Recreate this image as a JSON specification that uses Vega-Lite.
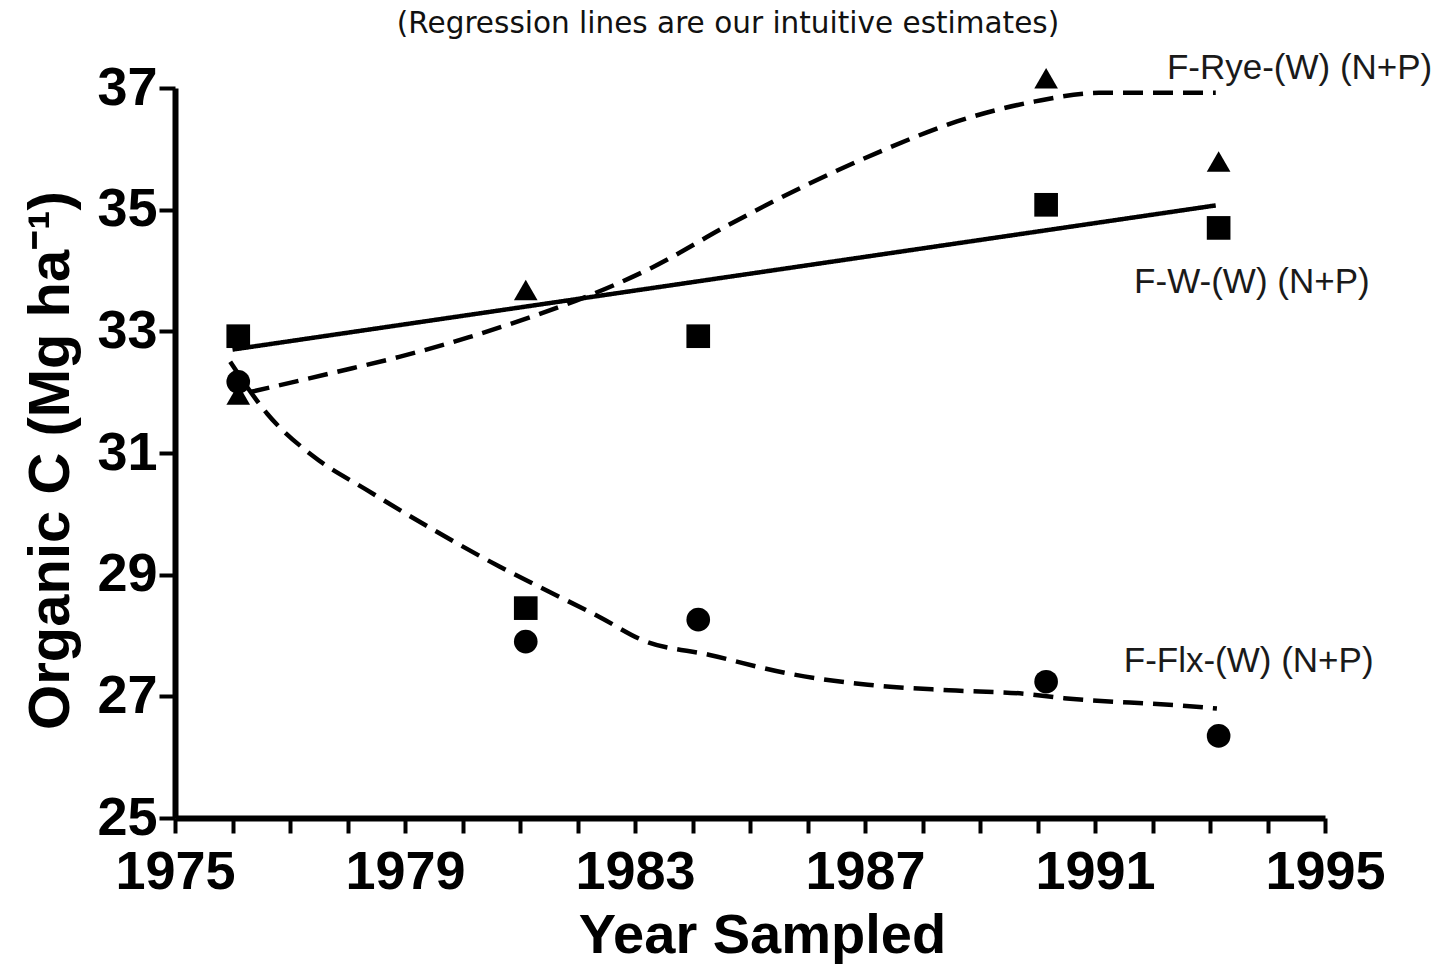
{
  "$schema": "https://vega.github.io/schema/vega-lite/v6.json",
  "width": 1150,
  "height": 730,
  "autosize": {"type": "none"},
  "padding": {"left": 175, "top": 88, "right": 124, "bottom": 146},
  "background": "white",
  "title": {
    "text": "(Regression lines are our intuitive estimates)",
    "font": "DejaVu Sans",
    "fontSize": 29.5,
    "fontWeight": "normal",
    "color": "#111",
    "anchor": "middle",
    "frame": "group",
    "dx": -22,
    "offset": 12
  },
  "config": {
    "view": {"stroke": null},
    "axis": {
      "domainColor": "black",
      "domainWidth": 6,
      "tickColor": "black",
      "tickWidth": 4,
      "grid": false,
      "labelFont": "Liberation Sans",
      "labelFontWeight": "bold",
      "labelFontSize": 54,
      "labelColor": "black",
      "titleFont": "Liberation Sans",
      "titleFontWeight": "bold",
      "titleColor": "black"
    }
  },
  "datasets": {
    "obs": [
      {"series": "Rye", "year": 1976.1, "c": 31.96},
      {"series": "Rye", "year": 1981.1, "c": 33.68},
      {"series": "Rye", "year": 1990.15, "c": 37.16},
      {"series": "Rye", "year": 1993.15, "c": 35.79},
      {"series": "W", "year": 1976.1, "c": 32.92},
      {"series": "W", "year": 1981.1, "c": 28.45},
      {"series": "W", "year": 1984.1, "c": 32.92},
      {"series": "W", "year": 1990.15, "c": 35.08},
      {"series": "W", "year": 1993.15, "c": 34.7},
      {"series": "Flx", "year": 1976.1, "c": 32.17},
      {"series": "Flx", "year": 1981.1, "c": 27.9},
      {"series": "Flx", "year": 1984.1, "c": 28.26},
      {"series": "Flx", "year": 1990.15, "c": 27.24},
      {"series": "Flx", "year": 1993.15, "c": 26.35}
    ],
    "fits": [
      {"series": "W", "year": 1976.0, "c": 32.7},
      {"series": "W", "year": 1993.1, "c": 35.07},
      {"series": "Rye", "year": 1976.3, "c": 32.0},
      {"series": "Rye", "year": 1977.75, "c": 32.32},
      {"series": "Rye", "year": 1978.9, "c": 32.58},
      {"series": "Rye", "year": 1980.1, "c": 32.9},
      {"series": "Rye", "year": 1981.2, "c": 33.24},
      {"series": "Rye", "year": 1982.1, "c": 33.55},
      {"series": "Rye", "year": 1983.3, "c": 34.05},
      {"series": "Rye", "year": 1984.63, "c": 34.75},
      {"series": "Rye", "year": 1985.97, "c": 35.4},
      {"series": "Rye", "year": 1987.3, "c": 35.97},
      {"series": "Rye", "year": 1988.6, "c": 36.45},
      {"series": "Rye", "year": 1989.96, "c": 36.78},
      {"series": "Rye", "year": 1991.07, "c": 36.92},
      {"series": "Rye", "year": 1993.1, "c": 36.92},
      {"series": "Flx", "year": 1975.96, "c": 32.5},
      {"series": "Flx", "year": 1976.6, "c": 31.65},
      {"series": "Flx", "year": 1977.4, "c": 30.95},
      {"series": "Flx", "year": 1978.34, "c": 30.39},
      {"series": "Flx", "year": 1979.49, "c": 29.74},
      {"series": "Flx", "year": 1980.65, "c": 29.13},
      {"series": "Flx", "year": 1981.23, "c": 28.85},
      {"series": "Flx", "year": 1982.39, "c": 28.3},
      {"series": "Flx", "year": 1983.14, "c": 27.92},
      {"series": "Flx", "year": 1984.3, "c": 27.68},
      {"series": "Flx", "year": 1985.64, "c": 27.38},
      {"series": "Flx", "year": 1987.05, "c": 27.19},
      {"series": "Flx", "year": 1988.46, "c": 27.1},
      {"series": "Flx", "year": 1989.8, "c": 27.04},
      {"series": "Flx", "year": 1990.46, "c": 26.97},
      {"series": "Flx", "year": 1992.48, "c": 26.85},
      {"series": "Flx", "year": 1993.12, "c": 26.8}
    ],
    "labels": [
      {"label": "F-Rye-(W) (N+P)", "year": 1992.25, "c": 37.14},
      {"label": "F-W-(W) (N+P)", "year": 1991.68, "c": 33.63},
      {"label": "F-Flx-(W) (N+P)", "year": 1991.5, "c": 27.4}
    ]
  },
  "encoding": {
    "x": {
      "field": "year",
      "type": "quantitative",
      "scale": {"domain": [1975, 1995], "nice": false, "zero": false},
      "axis": {
        "values": [1975,1976,1977,1978,1979,1980,1981,1982,1983,1984,1985,1986,1987,1988,1989,1990,1991,1992,1993,1994,1995],
        "labelExpr": "(datum.value - 1975) % 4 === 0 ? format(datum.value, 'd') : ''",
        "tickSize": 15,
        "labelPadding": 12,
        "labelOverlap": false,
        "labelFlush": false,
        "title": "Year Sampled",
        "titleFontSize": 56,
        "titleX": 587,
        "titleY": 134,
        "titleBaseline": "alphabetic",
        "titleAlign": "center"
      }
    },
    "y": {
      "field": "c",
      "type": "quantitative",
      "scale": {"domain": [25, 37], "nice": false, "zero": false},
      "axis": {
        "values": [25, 27, 29, 31, 33, 35, 37],
        "format": "d",
        "tickSize": 16,
        "labelPadding": 2,
        "title": "Organic C (Mg ha⁻¹)",
        "titleFontSize": 58,
        "titleAngle": -90,
        "titleX": -107,
        "titleY": 372,
        "titleBaseline": "alphabetic",
        "titleAlign": "center"
      }
    }
  },
  "layer": [
    {
      "data": {"name": "fits"},
      "mark": {"type": "line", "interpolate": "monotone", "color": "black", "strokeWidth": 4.5},
      "encoding": {
        "detail": {"field": "series"},
        "strokeDash": {
          "field": "series",
          "type": "nominal",
          "scale": {"domain": ["W", "Rye", "Flx"], "range": [[1, 0], [20, 10], [20, 10]]},
          "legend": null
        }
      }
    },
    {
      "data": {"name": "obs"},
      "mark": {"type": "point", "filled": true, "color": "black", "opacity": 1, "size": 560},
      "encoding": {
        "shape": {
          "field": "series",
          "type": "nominal",
          "scale": {"domain": ["Rye", "W", "Flx"], "range": ["triangle-up", "square", "circle"]},
          "legend": null
        }
      }
    },
    {
      "data": {"name": "labels"},
      "mark": {"type": "text", "align": "left", "baseline": "alphabetic", "font": "Liberation Sans", "fontSize": 35, "color": "#1a1a1a"},
      "encoding": {
        "text": {"field": "label"}
      }
    }
  ]
}
